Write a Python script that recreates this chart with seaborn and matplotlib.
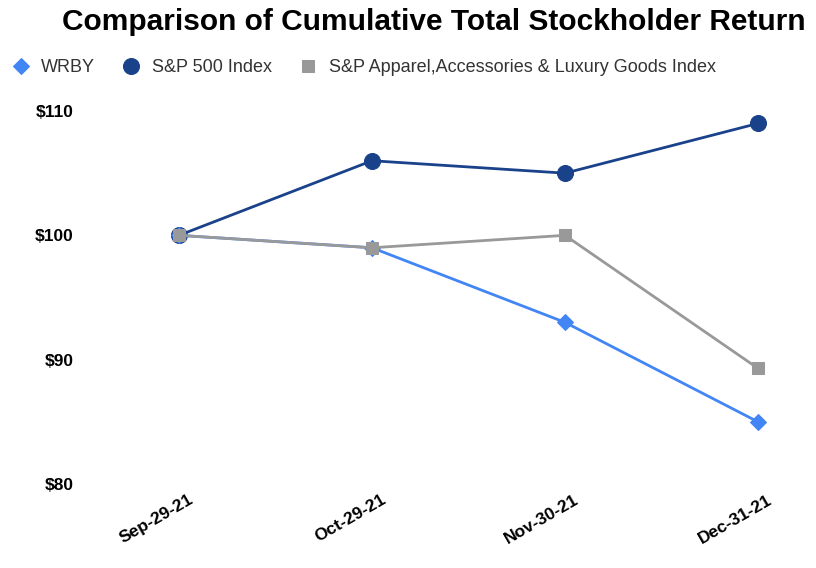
import pandas as pd
import numpy as np
import seaborn as sns
import matplotlib.pyplot as plt
from matplotlib.transforms import ScaledTranslation

# Datos
fechas = ['Sep-29-21', 'Oct-29-21', 'Nov-30-21', 'Dec-31-21']
wrby = [100, 99, 93, 85]
sp500 = [100, 106, 105, 109]
apparel = [100, 99, 100, 89.3]

series = ['WRBY', 'S&P 500 Index', 'S&P Apparel,Accessories & Luxury Goods Index']
colores = {'WRBY': '#4285f4', 'S&P 500 Index': '#1a428a',
           'S&P Apparel,Accessories & Luxury Goods Index': '#999999'}
marcadores = {'WRBY': 'D', 'S&P 500 Index': 'o',
              'S&P Apparel,Accessories & Luxury Goods Index': 's'}
tamanos = {'WRBY': 8.5, 'S&P 500 Index': 11.5,
           'S&P Apparel,Accessories & Luxury Goods Index': 8}

df = pd.DataFrame({
    'Fecha': fechas * 3,
    'Valor': wrby + sp500 + apparel,
    'Serie': [series[0]] * 4 + [series[1]] * 4 + [series[2]] * 4,
})
df['x'] = np.tile(np.arange(len(fechas)), 3)

sns.set_style('white')
plt.rcParams['font.family'] = ['Liberation Sans', 'DejaVu Sans']
plt.rcParams['text.color'] = 'black'
plt.rcParams['xtick.color'] = 'black'
plt.rcParams['ytick.color'] = 'black'

fig = plt.figure(figsize=(8.16, 5.68), dpi=100)
ax = fig.add_axes([110 / 816, 1 - 484 / 568, (816 - 110) / 816, (484 - 111) / 568])

# Orden de dibujo: S&P 500, WRBY, Apparel (gris encima)
for s in [series[1], series[0], series[2]]:
    sub = df[df['Serie'] == s]
    sns.lineplot(data=sub, x='x', y='Valor', ax=ax, color=colores[s],
                 marker=marcadores[s], markersize=tamanos[s],
                 markeredgecolor=colores[s], linewidth=2, label=s,
                 clip_on=False)

ax.set_xlim((110 - 179) / 193, (816 - 179) / 193)
ax.set_ylim(80, 110)
ax.set_xticks(range(len(fechas)))
ax.set_xticklabels(fechas, rotation=30, ha='right', rotation_mode='anchor',
                   fontsize=12.5, fontweight='bold')
ax.set_yticks([80, 90, 100, 110])
ax.set_yticklabels(['$80', '$90', '$100', '$110'], fontsize=12.5, fontweight='bold')
ax.tick_params(axis='y', pad=26, length=0)
ax.tick_params(axis='x', pad=6, length=0)
desplazar = ScaledTranslation(9 / 100, 0, fig.dpi_scale_trans)
for lbl in ax.get_xticklabels():
    lbl.set_transform(lbl.get_transform() + desplazar)
ax.set_xlabel('')
ax.set_ylabel('')
sns.despine(ax=ax, left=True, bottom=True)

# Leyenda en orden WRBY, S&P 500, Apparel
handles, labels = ax.get_legend_handles_labels()
orden = [labels.index(s) for s in series]
ax.get_legend().remove()
fig.legend([handles[i] for i in orden], [labels[i] for i in orden],
           loc='upper left', bbox_to_anchor=(-0.008, 0.925), ncol=3, frameon=False,
           fontsize=13, handlelength=1.2, handletextpad=0.55, columnspacing=1.4,
           labelcolor='#333333')
for h in fig.legends[0].legend_handles:
    h.set_linestyle('none')

fig.text(434 / 816, 1 - 22 / 568, 'Comparison of Cumulative Total Stockholder Return',
         ha='center', va='center', fontsize=21.5, fontweight='bold')

fig.savefig('out.png', dpi=100)
